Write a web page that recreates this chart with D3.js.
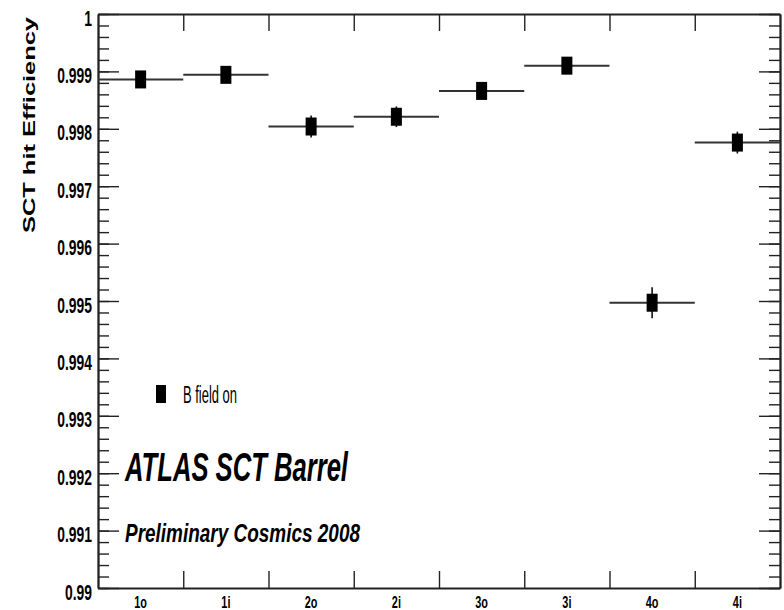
<!DOCTYPE html>
<html>
<head>
<meta charset="utf-8">
<script src="https://cdn.jsdelivr.net/npm/d3@7"></script>
<style>
  body { margin: 0; background: #fff; }
  text { font-family: "Liberation Sans", Arial, sans-serif; fill: #000; }
</style>
</head>
<body>
<div id="chart"></div>
<script>
// SCT barrel layers
var categories = ["1o", "1i", "2o", "2i", "3o", "3i", "4o", "4i"];
var efficiency = [0.99886, 0.99894, 0.99804, 0.99821, 0.99866, 0.99910, 0.99497, 0.99776];
var errors = [0.00014, 0.00014, 0.00019, 0.00018, 0.00013, 0.00013, 0.00027, 0.00019];
var yTickValues = [0.99, 0.991, 0.992, 0.993, 0.994, 0.995, 0.996, 0.997, 0.998, 0.999, 1];
var yTickLabels = ["0.99", "0.991", "0.992", "0.993", "0.994", "0.995", "0.996", "0.997", "0.998", "0.999", "1"];
var yDomain = [0.99, 1];
var legendLabel = "B field on";
var titleText = "ATLAS SCT Barrel";
var subtitleText = "Preliminary Cosmics 2008";
var yTitle = "SCT hit Efficiency";

var SctChart = {
  W: 784,
  H: 610,
  LEFT: 98,
  RIGHT: 780,
  TOP: 14,
  BOTTOM: 588,

  svg: null,
  x: null,
  xEdge: null,
  y: null,

  // squash text horizontally, the original picture is stretched tall
  squeeze: function(sel, k){
    sel.each(function(){
      var w = this.getComputedTextLength();
      d3.select(this)
        .attr("textLength", w * k)
        .attr("lengthAdjust", "spacingAndGlyphs");
    });
  },

  fitTo: function(sel, w){
    sel.attr("textLength", w).attr("lengthAdjust", "spacingAndGlyphs");
  },

  buildSvg: function(){
    this.svg = d3.select("#chart").append("svg")
      .attr("width", this.W)
      .attr("height", this.H);

    this.x = d3.scaleBand().domain(categories).range([this.LEFT, this.RIGHT]).padding(0);
    this.xEdge = d3.scaleLinear().domain([0, categories.length]).range([this.LEFT, this.RIGHT]);
    this.y = d3.scaleLinear().domain(yDomain).range([this.BOTTOM, this.TOP]);
  },

  drawAxes: function(){
    var svg = this.svg;
    var minor = this.y.ticks(50);
    var edges = d3.range(1, categories.length);

    var styleAxis = function(g){
      g.selectAll("path.domain").attr("stroke", "#222").attr("stroke-width", 1.8);
      g.selectAll(".tick line").attr("stroke", "#222").attr("stroke-width", 1.4);
    };

    // left, minor ticks
    svg.append("g")
      .attr("transform", "translate(" + this.LEFT + ",0)")
      .call(d3.axisLeft(this.y).tickValues(minor).tickSizeInner(-11).tickSizeOuter(0).tickFormat(""))
      .call(styleAxis);

    // left, major ticks + labels
    var left = svg.append("g")
      .attr("transform", "translate(" + this.LEFT + ",0)")
      .call(d3.axisLeft(this.y)
        .tickValues(yTickValues)
        .tickSizeInner(-21).tickSizeOuter(0).tickPadding(6)
        .tickFormat(function(d, i){ return yTickLabels[i]; }))
      .call(styleAxis);
    left.selectAll(".tick text")
      .attr("font-size", 22)
      .attr("font-weight", "bold")
      .attr("dy", "0.5em")
      .call(this.squeeze, 0.63);

    // right side ticks
    svg.append("g")
      .attr("transform", "translate(" + this.RIGHT + ",0)")
      .call(d3.axisRight(this.y).tickValues(minor).tickSizeInner(-11).tickSizeOuter(0).tickFormat(""))
      .call(styleAxis);
    svg.append("g")
      .attr("transform", "translate(" + this.RIGHT + ",0)")
      .call(d3.axisRight(this.y).tickValues(yTickValues).tickSizeInner(-21).tickSizeOuter(0).tickFormat(""))
      .call(styleAxis);

    // bottom: ticks at bin edges
    svg.append("g")
      .attr("transform", "translate(0," + this.BOTTOM + ")")
      .call(d3.axisBottom(this.xEdge).tickValues(edges).tickSizeInner(-17).tickSizeOuter(0).tickFormat(""))
      .call(styleAxis);

    // top: ticks at bin edges
    svg.append("g")
      .attr("transform", "translate(0," + this.TOP + ")")
      .call(d3.axisTop(this.xEdge).tickValues(edges).tickSizeInner(-17).tickSizeOuter(0).tickFormat(""))
      .call(styleAxis);

    // bin labels
    var labels = svg.append("g")
      .attr("transform", "translate(0," + this.BOTTOM + ")")
      .call(d3.axisBottom(this.x).tickSize(0).tickPadding(9));
    labels.select("path.domain").remove();
    labels.selectAll(".tick text")
      .attr("font-size", 16)
      .attr("font-weight", "bold")
      .call(this.squeeze, 0.68);

    // y title
    svg.append("text")
      .attr("transform", "translate(35,17) rotate(-90)")
      .attr("text-anchor", "end")
      .attr("font-size", 17)
      .attr("font-weight", "bold")
      .text(yTitle)
      .call(this.fitTo, 216);
  },

  drawPoints: function(){
    var that = this, bw = this.x.bandwidth();
    var pts = this.svg.append("g").selectAll("g")
      .data(categories)
      .enter().append("g");

    // horizontal bars span whole bin
    pts.append("line")
      .attr("x1", function(d){ return that.x(d); })
      .attr("x2", function(d){ return that.x(d) + bw; })
      .attr("y1", function(d, i){ return that.y(efficiency[i]); })
      .attr("y2", function(d, i){ return that.y(efficiency[i]); })
      .attr("stroke", "#333")
      .attr("stroke-width", 2);

    pts.append("line")
      .attr("x1", function(d){ return that.x(d) + bw / 2; })
      .attr("x2", function(d){ return that.x(d) + bw / 2; })
      .attr("y1", function(d, i){ return that.y(efficiency[i] - errors[i]); })
      .attr("y2", function(d, i){ return that.y(efficiency[i] + errors[i]); })
      .attr("stroke", "#111")
      .attr("stroke-width", 1.6);

    pts.append("rect")
      .attr("x", function(d){ return that.x(d) + bw / 2 - 5.5; })
      .attr("y", function(d, i){ return that.y(efficiency[i]) - 9; })
      .attr("width", 11)
      .attr("height", 18)
      .attr("fill", "#000");
  },

  drawLabels: function(){
    var svg = this.svg;

    svg.append("rect")
      .attr("x", 156).attr("y", 385)
      .attr("width", 10).attr("height", 18)
      .attr("fill", "#000");
    svg.append("text")
      .attr("x", 183).attr("y", 403)
      .attr("font-size", 23)
      .text(legendLabel)
      .call(this.fitTo, 54);

    svg.append("text")
      .attr("x", 125).attr("y", 481)
      .attr("font-size", 41)
      .attr("font-weight", "bold")
      .attr("font-style", "italic")
      .text(titleText)
      .call(this.fitTo, 223);

    svg.append("text")
      .attr("x", 125).attr("y", 542)
      .attr("font-size", 25)
      .attr("font-weight", "bold")
      .attr("font-style", "italic")
      .text(subtitleText)
      .call(this.fitTo, 235);
  }
};

SctChart.buildSvg();
SctChart.drawAxes();
SctChart.drawPoints();
SctChart.drawLabels();
</script>
</body>
</html>
